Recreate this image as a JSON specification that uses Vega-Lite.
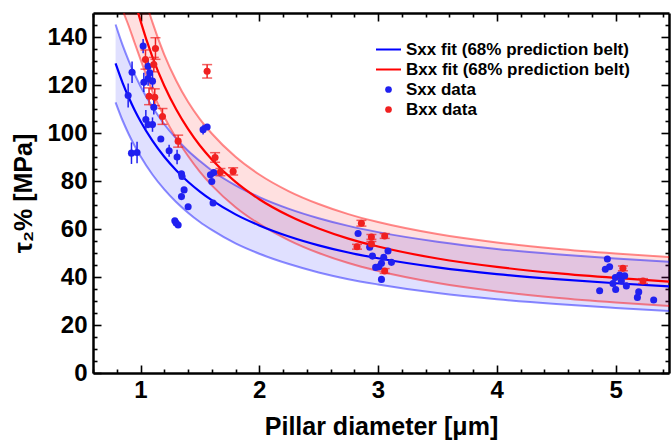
{
  "$schema": "https://vega.github.io/schema/vega-lite/v6.json",
  "width": 576,
  "height": 360,
  "autosize": {"type": "none"},
  "padding": {"left": 93, "top": 13, "right": 3, "bottom": 73},
  "background": "white",
  "config": {
    "view": {"stroke": null},
    "axis": {
      "domainColor": "black", "domainWidth": 2.5, "tickColor": "black", "tickWidth": 1.6,
      "labelFont": "Liberation Sans", "labelFontWeight": "bold", "labelFontSize": 24, "labelColor": "black",
      "titleFont": "Liberation Sans", "titleFontWeight": "bold", "titleFontSize": 25, "titleColor": "black",
      "grid": false, "zindex": 1
    },
    "legend": {
      "labelFont": "Liberation Sans", "labelFontSize": 17, "labelFontWeight": "bold", "labelColor": "black",
      "symbolSize": 625, "labelOffset": 9, "rowPadding": 2, "padding": 0, "labelLimit": 400
    }
  },
  "datasets": {
    "curves": [
      {"d": 0.79, "bc": 129.0, "bl": 112.8, "bu": 145.2, "rc": 193.5, "rl": 162.5, "ru": 224.5},
      {"d": 0.85, "bc": 120.8, "bl": 105.1, "bu": 136.5, "rc": 177.3, "rl": 151.3, "ru": 203.3},
      {"d": 0.9, "bc": 114.9, "bl": 99.6, "bu": 130.2, "rc": 165.7, "rl": 144.7, "ru": 186.7},
      {"d": 0.95, "bc": 109.6, "bl": 94.7, "bu": 124.5, "rc": 155.6, "rl": 137.6, "ru": 173.6},
      {"d": 1.0, "bc": 104.9, "bl": 90.3, "bu": 119.5, "rc": 146.7, "rl": 130.7, "ru": 162.7},
      {"d": 1.1, "bc": 96.8, "bl": 82.7, "bu": 110.9, "rc": 131.7, "rl": 117.2, "ru": 146.2},
      {"d": 1.2, "bc": 90.1, "bl": 76.5, "bu": 103.7, "rc": 119.7, "rl": 106.7, "ru": 132.7},
      {"d": 1.3, "bc": 84.5, "bl": 71.25, "bu": 97.75, "rc": 109.9, "rl": 97.9, "ru": 121.9},
      {"d": 1.4, "bc": 79.7, "bl": 66.8, "bu": 92.6, "rc": 101.7, "rl": 90.4, "ru": 113.0},
      {"d": 1.5, "bc": 75.6, "bl": 62.9, "bu": 88.3, "rc": 94.8, "rl": 83.8, "ru": 105.8},
      {"d": 1.6, "bc": 72.0, "bl": 59.6, "bu": 84.4, "rc": 89.0, "rl": 78.2, "ru": 99.8},
      {"d": 1.8, "bc": 66.1, "bl": 54.0, "bu": 78.2, "rc": 79.6, "rl": 69.1, "ru": 90.1},
      {"d": 2.0, "bc": 61.5, "bl": 49.7, "bu": 73.3, "rc": 72.4, "rl": 62.1, "ru": 82.7},
      {"d": 2.25, "bc": 56.9, "bl": 45.4, "bu": 68.4, "rc": 65.5, "rl": 55.3, "ru": 75.7},
      {"d": 2.5, "bc": 53.2, "bl": 41.9, "bu": 64.5, "rc": 60.2, "rl": 50.0, "ru": 70.4},
      {"d": 2.75, "bc": 50.2, "bl": 39.1, "bu": 61.3, "rc": 56.0, "rl": 45.8, "ru": 66.2},
      {"d": 3.0, "bc": 47.8, "bl": 36.9, "bu": 58.7, "rc": 52.7, "rl": 42.5, "ru": 62.9},
      {"d": 3.5, "bc": 44.0, "bl": 33.3, "bu": 54.7, "rc": 47.7, "rl": 37.5, "ru": 57.9},
      {"d": 4.0, "bc": 41.2, "bl": 30.7, "bu": 51.7, "rc": 44.2, "rl": 34.0, "ru": 54.4},
      {"d": 4.5, "bc": 39.1, "bl": 28.7, "bu": 49.5, "rc": 41.6, "rl": 31.4, "ru": 51.8},
      {"d": 5.0, "bc": 37.4, "bl": 27.1, "bu": 47.7, "rc": 39.6, "rl": 29.4, "ru": 49.8},
      {"d": 5.45, "bc": 36.1, "bl": 25.8, "bu": 46.4, "rc": 38.1, "rl": 27.9, "ru": 48.3}
    ],
    "pts": [
      {"series": "Sxx", "d": 0.896, "tau": 115.6, "err": 5},
      {"series": "Sxx", "d": 0.924, "tau": 91.6, "err": 4.5},
      {"series": "Sxx", "d": 0.929, "tau": 125.3, "err": 4.5},
      {"series": "Sxx", "d": 0.971, "tau": 91.9, "err": 4.5},
      {"series": "Sxx", "d": 1.022, "tau": 136.2, "err": 3},
      {"series": "Sxx", "d": 1.028, "tau": 121.1, "err": 4},
      {"series": "Sxx", "d": 1.045, "tau": 105.6, "err": 4},
      {"series": "Sxx", "d": 1.064, "tau": 127.8, "err": 3},
      {"series": "Sxx", "d": 1.078, "tau": 125.1},
      {"series": "Sxx", "d": 1.064, "tau": 122.7, "err": 3},
      {"series": "Sxx", "d": 1.101, "tau": 121.6, "err": 3},
      {"series": "Sxx", "d": 1.064, "tau": 103.5},
      {"series": "Sxx", "d": 1.101, "tau": 103.5, "err": 3},
      {"series": "Sxx", "d": 1.112, "tau": 110.7, "err": 3},
      {"series": "Sxx", "d": 1.171, "tau": 97.5},
      {"series": "Sxx", "d": 1.241, "tau": 92.6, "err": 2.5},
      {"series": "Sxx", "d": 1.308, "tau": 90.0, "err": 3},
      {"series": "Sxx", "d": 1.345, "tau": 83.0},
      {"series": "Sxx", "d": 1.35, "tau": 81.9},
      {"series": "Sxx", "d": 1.367, "tau": 76.3},
      {"series": "Sxx", "d": 1.345, "tau": 73.5},
      {"series": "Sxx", "d": 1.401, "tau": 69.3},
      {"series": "Sxx", "d": 1.289, "tau": 63.4},
      {"series": "Sxx", "d": 1.317, "tau": 61.7},
      {"series": "Sxx", "d": 1.3, "tau": 62.5},
      {"series": "Sxx", "d": 1.527, "tau": 101.4, "err": 2},
      {"series": "Sxx", "d": 1.561, "tau": 102.5},
      {"series": "Sxx", "d": 1.589, "tau": 82.6},
      {"series": "Sxx", "d": 1.617, "tau": 83.5},
      {"series": "Sxx", "d": 1.6, "tau": 79.8},
      {"series": "Sxx", "d": 1.611, "tau": 70.8},
      {"series": "Sxx", "d": 2.832, "tau": 58.1},
      {"series": "Sxx", "d": 2.93, "tau": 52.4},
      {"series": "Sxx", "d": 3.084, "tau": 50.8},
      {"series": "Sxx", "d": 2.953, "tau": 48.7},
      {"series": "Sxx", "d": 3.048, "tau": 48.2},
      {"series": "Sxx", "d": 3.029, "tau": 45.7},
      {"series": "Sxx", "d": 3.113, "tau": 46.1},
      {"series": "Sxx", "d": 3.008, "tau": 44.3},
      {"series": "Sxx", "d": 2.98, "tau": 44.0},
      {"series": "Sxx", "d": 3.029, "tau": 39.0},
      {"series": "Sxx", "d": 4.931, "tau": 47.5},
      {"series": "Sxx", "d": 4.95, "tau": 44.3},
      {"series": "Sxx", "d": 4.914, "tau": 43.2},
      {"series": "Sxx", "d": 4.998, "tau": 39.8},
      {"series": "Sxx", "d": 5.035, "tau": 40.8},
      {"series": "Sxx", "d": 5.077, "tau": 40.5},
      {"series": "Sxx", "d": 5.049, "tau": 38.3},
      {"series": "Sxx", "d": 4.978, "tau": 37.3},
      {"series": "Sxx", "d": 5.091, "tau": 36.3},
      {"series": "Sxx", "d": 4.866, "tau": 34.3},
      {"series": "Sxx", "d": 5.001, "tau": 34.8},
      {"series": "Sxx", "d": 5.195, "tau": 33.8},
      {"series": "Sxx", "d": 5.184, "tau": 31.5},
      {"series": "Sxx", "d": 5.321, "tau": 30.4},
      {"series": "Bxx", "d": 1.042, "tau": 130.6, "err": 4},
      {"series": "Bxx", "d": 1.126, "tau": 135.2, "err": 4.5},
      {"series": "Bxx", "d": 1.112, "tau": 128.5, "err": 3},
      {"series": "Bxx", "d": 1.072, "tau": 115.3, "err": 3.5},
      {"series": "Bxx", "d": 1.12, "tau": 114.9, "err": 3.5},
      {"series": "Bxx", "d": 1.185, "tau": 106.9, "err": 3.3},
      {"series": "Bxx", "d": 1.317, "tau": 96.6, "err": 2.5},
      {"series": "Bxx", "d": 1.561, "tau": 125.7, "err": 2.8},
      {"series": "Bxx", "d": 1.628, "tau": 89.8, "err": 2},
      {"series": "Bxx", "d": 1.673, "tau": 83.7, "err": 1.5},
      {"series": "Bxx", "d": 1.78, "tau": 84.0, "err": 1.5},
      {"series": "Bxx", "d": 2.86, "tau": 62.4, "err": 1.2},
      {"series": "Bxx", "d": 2.823, "tau": 52.6, "err": 1},
      {"series": "Bxx", "d": 2.944, "tau": 56.7, "err": 1},
      {"series": "Bxx", "d": 3.056, "tau": 57.1, "err": 1},
      {"series": "Bxx", "d": 2.944, "tau": 53.8, "err": 1},
      {"series": "Bxx", "d": 3.056, "tau": 42.5, "err": 1},
      {"series": "Bxx", "d": 5.062, "tau": 43.6, "err": 1},
      {"series": "Bxx", "d": 5.231, "tau": 38.3, "err": 1}
    ]
  },
  "resolve": {"scale": {"x": "shared", "y": "shared"}, "axis": {"x": "independent", "y": "independent"}},
  "layer": [
    {
      "data": {"name": "curves"},
      "mark": {"type": "area", "color": "#0000ff", "opacity": 0.12, "interpolate": "monotone", "clip": true},
      "encoding": {
        "x": {"field": "d", "type": "quantitative", "scale": {"domain": [0.6, 5.45], "nice": false, "zero": false},
          "axis": {"orient": "bottom", "values": [0.6,0.8,1,1.2,1.4,1.6,1.8,2,2.2,2.4,2.6,2.8,3,3.2,3.4,3.6,3.8,4,4.2,4.4,4.6,4.8,5,5.2,5.4],
            "tickSize": {"condition": {"test": "abs(datum.value-round(datum.value))<0.01", "value": -8}, "value": -4},
            "labelExpr": "abs(datum.value-round(datum.value))<0.01 ? toString(round(datum.value)) : ''",
            "labelPadding": 13, "labelOverlap": false, "labelFlush": false,
            "title": "Pillar diameter [μm]", "titlePadding": 8}},
        "y": {"field": "bl", "type": "quantitative", "scale": {"domain": [0, 150], "nice": false},
          "axis": {"orient": "left", "values": [0,5,10,15,20,25,30,35,40,45,50,55,60,65,70,75,80,85,90,95,100,105,110,115,120,125,130,135,140,145],
            "tickSize": {"condition": {"test": "datum.value % 20 == 0", "value": -8}, "value": -4},
            "labelExpr": "datum.value % 20 == 0 ? datum.label : ''",
            "labelPadding": 14, "labelOverlap": false, "labelFlush": false,
            "title": "τ₂% [MPa]", "titlePadding": 10}},
        "y2": {"field": "bu"}
      }
    },
    {
      "data": {"name": "curves"},
      "mark": {"type": "area", "color": "#ff0000", "opacity": 0.12, "interpolate": "monotone", "clip": true},
      "encoding": {
        "x": {"field": "d", "type": "quantitative",
          "axis": {"orient": "top", "values": [0.6,0.8,1,1.2,1.4,1.6,1.8,2,2.2,2.4,2.6,2.8,3,3.2,3.4,3.6,3.8,4,4.2,4.4,4.6,4.8,5,5.2,5.4],
            "tickSize": {"condition": {"test": "abs(datum.value-round(datum.value))<0.01", "value": -8}, "value": -4},
            "labels": false, "title": null}},
        "y": {"field": "rl", "type": "quantitative",
          "axis": {"orient": "right", "values": [0,5,10,15,20,25,30,35,40,45,50,55,60,65,70,75,80,85,90,95,100,105,110,115,120,125,130,135,140,145],
            "tickSize": {"condition": {"test": "datum.value % 20 == 0", "value": -8}, "value": -4},
            "labels": false, "title": null}},
        "y2": {"field": "ru"}
      }
    },
    {
      "data": {"name": "curves"},
      "mark": {"type": "line", "color": "#0000ff", "strokeOpacity": 0.45, "strokeWidth": 2, "interpolate": "monotone", "clip": true},
      "encoding": {"x": {"field": "d", "type": "quantitative", "axis": null}, "y": {"field": "bu", "type": "quantitative", "axis": null}}
    },
    {
      "data": {"name": "curves"},
      "mark": {"type": "line", "color": "#0000ff", "strokeOpacity": 0.45, "strokeWidth": 2, "interpolate": "monotone", "clip": true},
      "encoding": {"x": {"field": "d", "type": "quantitative", "axis": null}, "y": {"field": "bl", "type": "quantitative", "axis": null}}
    },
    {
      "data": {"name": "curves"},
      "mark": {"type": "line", "color": "#ff0000", "strokeOpacity": 0.45, "strokeWidth": 2, "interpolate": "monotone", "clip": true},
      "encoding": {"x": {"field": "d", "type": "quantitative", "axis": null}, "y": {"field": "ru", "type": "quantitative", "axis": null}}
    },
    {
      "data": {"name": "curves"},
      "mark": {"type": "line", "color": "#ff0000", "strokeOpacity": 0.45, "strokeWidth": 2, "interpolate": "monotone", "clip": true},
      "encoding": {"x": {"field": "d", "type": "quantitative", "axis": null}, "y": {"field": "rl", "type": "quantitative", "axis": null}}
    },
    {
      "data": {"name": "curves"},
      "transform": [{"fold": ["bc", "rc"], "as": ["series", "tau"]}],
      "mark": {"type": "line", "strokeWidth": 2.2, "interpolate": "monotone", "clip": true},
      "encoding": {
        "x": {"field": "d", "type": "quantitative", "axis": null},
        "y": {"field": "tau", "type": "quantitative", "axis": null},
        "color": {"field": "series", "type": "nominal",
          "scale": {"domain": ["bc", "rc", "Sxx", "Bxx"], "range": ["#0000ff", "#ff0000", "#2020f0", "#f02020"]},
          "legend": {"title": null, "orient": "none", "legendX": 287, "legendY": 28,
            "labelExpr": "datum.value=='bc' ? 'Sxx fit (68% prediction belt)' : datum.value=='rc' ? 'Bxx fit (68% prediction belt)' : datum.value=='Sxx' ? 'Sxx data' : 'Bxx data'",
            "encode": {"symbols": {"update": {
              "shape": {"signal": "datum.value=='bc'||datum.value=='rc' ? 'stroke' : 'circle'"},
              "size": {"signal": "datum.value=='bc'||datum.value=='rc' ? 625 : 45"},
              "fill": {"scale": "color", "field": "value"},
              "stroke": {"scale": "color", "field": "value"},
              "strokeWidth": {"signal": "datum.value=='bc'||datum.value=='rc' ? 2 : 0"},
              "opacity": {"value": 1}}}}}}
      }
    },
    {
      "data": {"name": "pts"},
      "transform": [{"filter": "datum.series == 'Sxx' && datum.err > 0"}],
      "mark": {"type": "errorbar", "ticks": false, "thickness": 1.5, "color": "#2020f0"},
      "encoding": {
        "x": {"field": "d", "type": "quantitative", "axis": null},
        "y": {"field": "tau", "type": "quantitative", "axis": null},
        "yError": {"field": "err"}
      }
    },
    {
      "data": {"name": "pts"},
      "transform": [{"filter": "datum.series == 'Bxx' && datum.err > 0"}],
      "mark": {"type": "errorbar", "ticks": {"size": 10, "thickness": 1.5}, "thickness": 1.5, "color": "#f02020"},
      "encoding": {
        "x": {"field": "d", "type": "quantitative", "axis": null},
        "y": {"field": "tau", "type": "quantitative", "axis": null},
        "yError": {"field": "err"}
      }
    },
    {
      "data": {"name": "pts"},
      "mark": {"type": "point", "filled": true, "size": 50, "opacity": 1},
      "encoding": {
        "x": {"field": "d", "type": "quantitative", "axis": null},
        "y": {"field": "tau", "type": "quantitative", "axis": null},
        "color": {"field": "series", "type": "nominal",
          "legend": {"title": null, "orient": "none", "legendX": 287, "legendY": 28,
            "labelExpr": "datum.value=='bc' ? 'Sxx fit (68% prediction belt)' : datum.value=='rc' ? 'Bxx fit (68% prediction belt)' : datum.value=='Sxx' ? 'Sxx data' : 'Bxx data'",
            "encode": {"symbols": {"update": {
              "shape": {"signal": "datum.value=='bc'||datum.value=='rc' ? 'stroke' : 'circle'"},
              "size": {"signal": "datum.value=='bc'||datum.value=='rc' ? 625 : 45"},
              "fill": {"scale": "color", "field": "value"},
              "stroke": {"scale": "color", "field": "value"},
              "strokeWidth": {"signal": "datum.value=='bc'||datum.value=='rc' ? 2 : 0"},
              "opacity": {"value": 1}}}}}}
      }
    }
  ]
}
